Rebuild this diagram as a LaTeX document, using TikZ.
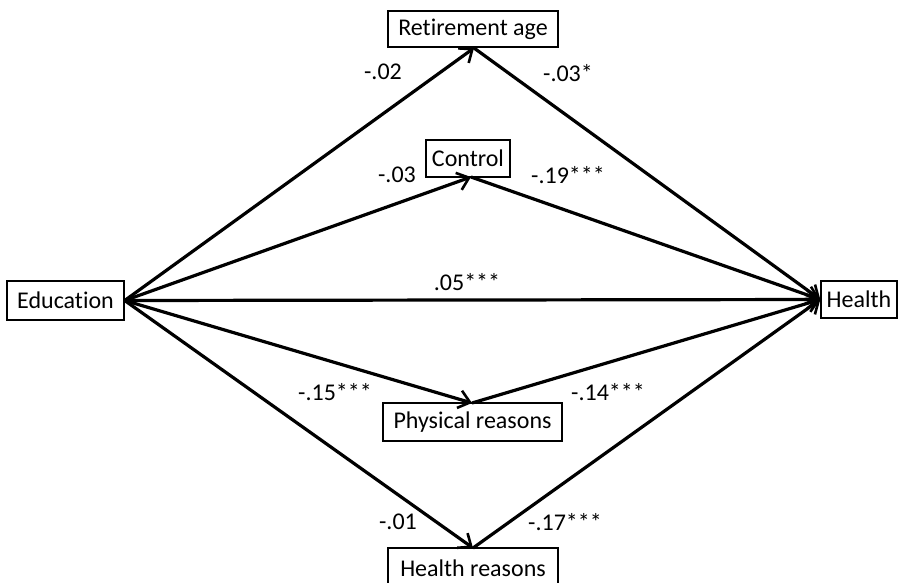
\documentclass[tikz,border=0pt]{standalone}
\usepackage{fontspec}
\setmainfont{Carlito}[Ligatures=NoCommon]
\usetikzlibrary{arrows.meta}
\begin{document}
\begin{tikzpicture}[x=1pt,y=-1pt,
  box/.style={draw=black,line width=1.4pt,fill=white,inner sep=0pt,font=\fontsize{24}{28}\selectfont},
  path/.style={line width=3.2pt,-{Straight Barb[length=11pt,width=18pt,line width=2.6pt]}},
  coef/.style={font=\fontsize{24}{28}\selectfont,inner sep=0pt}]
\useasboundingbox (0,0) rectangle (906,582);
\clip (0,0) rectangle (906,582);
\node[box,minimum width=170pt,minimum height=36pt] (ret) at (473,29) {Retirement age};
\node[box,minimum width=84pt,minimum height=37pt] (ctrl) at (468,158.5) {Control};
\node[box,minimum width=117pt,minimum height=39pt] (edu) at (65.5,300.5) {Education};
\node[box,minimum width=76pt,minimum height=37pt] (hea) at (859,299.5) {Health};
\node[box,minimum width=179pt,minimum height=38pt] (phys) at (472.5,422) {Physical reasons};
\node[box,minimum width=170pt,minimum height=40pt] (hr) at (473,568) {Health reasons};
\coordinate (retb) at (474,48);
\coordinate (ctrlb) at (471,177);
\coordinate (physt) at (472,403);
\coordinate (hrt) at (473,548);
\draw[path] (edu.east) -- (retb);
\draw[path] (retb) -- (hea.west);
\draw[path] (edu.east) -- (ctrlb);
\draw[path] (ctrlb) -- (hea.west);
\draw[path] (edu.east) -- (hea.west);
\draw[path] (edu.east) -- (physt);
\draw[path] (physt) -- (hea.west);
\draw[path] (edu.east) -- (hrt);
\draw[path] (hrt) -- (hea.west);
\node[coef] (c1) at (383,72) {-.02};
\node[coef] (c2) at (568,73) {-.03*};
\node[coef] (c3) at (397,175) {-.03};
\node[coef] (c4) at (568,175) {-.19***};
\node[coef] (c5) at (467,282) {.05***};
\node[coef] (c6) at (335,392) {-.15***};
\node[coef] (c7) at (608,392) {-.14***};
\node[coef] (c8) at (398,522) {-.01};
\node[coef] (c9) at (565,522) {-.17***};
\end{tikzpicture}
\end{document}
